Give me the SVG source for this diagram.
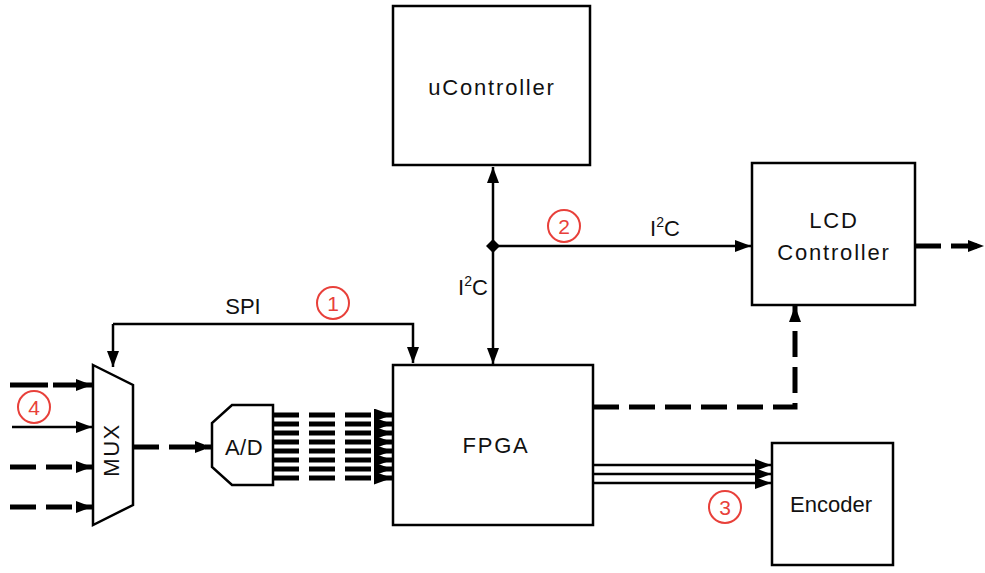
<svg xmlns="http://www.w3.org/2000/svg" width="985" height="573" viewBox="0 0 985 573">
<defs>
<marker id="ah" viewBox="0 0 16 12" refX="16" refY="6" markerWidth="16" markerHeight="12" markerUnits="userSpaceOnUse" orient="auto-start-reverse">
<path d="M0,0 L16,6 L0,12 Z" fill="#000"/>
</marker>
<marker id="ah2" viewBox="0 0 18 13" refX="18" refY="6.5" markerWidth="18" markerHeight="13" markerUnits="userSpaceOnUse" orient="auto">
<path d="M0,0 L18,6.5 L0,13 Z" fill="#000"/>
</marker>
</defs>
<style>
.box{fill:#fff;stroke:#000;stroke-width:2.5}
.t{font-family:"Liberation Sans",Arial,sans-serif;font-size:22px;fill:#111;text-anchor:middle}
.thin{fill:none;stroke:#000;stroke-width:2.5}
.thick{fill:none;stroke:#000;stroke-width:5}
.dash{fill:none;stroke:#000;stroke-width:5;stroke-dasharray:26 10}
.red{fill:#fff;stroke:#e8403a;stroke-width:2}
.rt{font-family:"Liberation Sans",Arial,sans-serif;font-size:21px;fill:#e8403a;text-anchor:middle}
</style>
<rect width="985" height="573" fill="#fff"/>
<g id="connectors">
<path class="thin" d="M113,324 H413 V363" marker-end="url(#ah)"/>
<path class="thin" d="M113,324 V367" marker-end="url(#ah)"/>
<path class="thin" d="M493,246 V167" marker-end="url(#ah)"/>
<path class="thin" d="M493,246 V364" marker-end="url(#ah)"/>
<path class="thin" d="M493,246 H751" marker-end="url(#ah)"/>
<path d="M493,239 L500,246 L493,253 L486,246 Z" fill="#000"/>
<path class="dash" d="M915,246 H984" stroke-dasharray="28 10" marker-end="url(#ah)"/>
<path class="dash" d="M593,407 H795 V306" marker-end="url(#ah)"/>
<path class="thin" d="M593,465 H771" marker-end="url(#ah)"/>
<path class="thin" d="M593,474 H771" marker-end="url(#ah)"/>
<path class="thin" d="M593,483 H771" marker-end="url(#ah)"/>
<path class="thick" d="M10,385 H92" stroke-dasharray="38 5 40" marker-end="url(#ah)"/>
<path class="thin" d="M12,427 H92" marker-end="url(#ah)"/>
<path class="dash" d="M10,467 H92" stroke-dasharray="28 12" marker-end="url(#ah)"/>
<path class="dash" d="M10,507 H92" stroke-dasharray="28 12" marker-end="url(#ah)"/>
<path class="dash" d="M133,447 H211" stroke-dasharray="22 12" marker-end="url(#ah)"/>
<path class="dash" d="M273,415 H392" stroke-dasharray="27 10" marker-end="url(#ah2)"/>
<path class="dash" d="M273,424 H392" stroke-dasharray="27 10" marker-end="url(#ah2)"/>
<path class="dash" d="M273,433 H392" stroke-dasharray="27 10" marker-end="url(#ah2)"/>
<path class="dash" d="M273,442 H392" stroke-dasharray="27 10" marker-end="url(#ah2)"/>
<path class="dash" d="M273,451 H392" stroke-dasharray="27 10" marker-end="url(#ah2)"/>
<path class="dash" d="M273,460 H392" stroke-dasharray="27 10" marker-end="url(#ah2)"/>
<path class="dash" d="M273,469 H392" stroke-dasharray="27 10" marker-end="url(#ah2)"/>
<path class="dash" d="M273,478 H392" stroke-dasharray="27 10" marker-end="url(#ah2)"/>
<text class="t" x="243" y="314">SPI</text>
<text class="t" x="473" y="295">I<tspan dy="-9" font-size="14">2</tspan><tspan dy="9">C</tspan></text>
<text class="t" x="665" y="236">I<tspan dy="-9" font-size="14">2</tspan><tspan dy="9">C</tspan></text>
</g>
<g id="uController">
<rect class="box" x="393" y="6" width="197" height="159"/>
<text class="t" x="492" y="95" letter-spacing="1.8">uController</text>
</g>
<g id="lcd">
<rect class="box" x="752" y="163" width="163" height="142"/>
<text class="t" x="834" y="228" letter-spacing="1.8">LCD</text>
<text class="t" x="834" y="260" letter-spacing="1.8">Controller</text>
</g>
<g id="fpga">
<rect class="box" x="393" y="365" width="200" height="160"/>
<text class="t" x="496" y="453" font-size="24" letter-spacing="1.8">FPGA</text>
</g>
<g id="encoder">
<rect class="box" x="772" y="443" width="121" height="122"/>
<text class="t" x="831" y="512">Encoder</text>
</g>
<g id="mux">
<path class="box" d="M93,365 L133,385 L133,505 L93,525 Z" stroke-width="3"/>
<text class="t" x="0" y="0" font-size="19" letter-spacing="1.5" transform="translate(119,450) rotate(-90)">MUX</text>
</g>
<g id="ad">
<path class="box" d="M232,405 L273,405 L273,485 L232,485 L212,467 L212,423 Z" stroke-width="3"/>
<text class="t" x="244" y="455" letter-spacing="0.5">A/D</text>
</g>
<g id="markers">
<circle class="red" cx="333" cy="303" r="16"/><text class="rt" x="333" y="311">1</text>
<circle class="red" cx="564" cy="226" r="16"/><text class="rt" x="564" y="234">2</text>
<circle class="red" cx="725" cy="507" r="16"/><text class="rt" x="725" y="515">3</text>
<circle class="red" cx="34" cy="407" r="16"/><text class="rt" x="34" y="415">4</text>
</g>
</svg>
